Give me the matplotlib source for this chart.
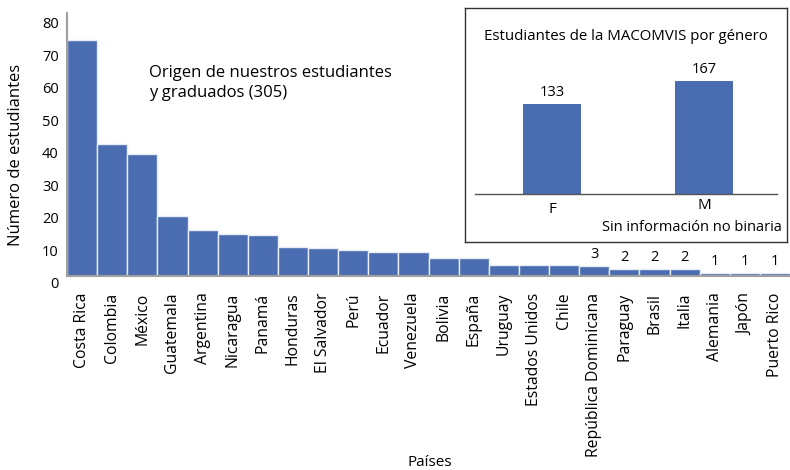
import matplotlib.pyplot as plt
import matplotlib.transforms as mtransforms

# datos por país
paises = ['Costa Rica', 'Colombia', 'México', 'Guatemala', 'Argentina', 'Nicaragua',
          'Panamá', 'Honduras', 'El Salvador', 'Perú', 'Ecuador', 'Venezuela',
          'Bolivia', 'España', 'Uruguay', 'Estados Unidos', 'Chile',
          'República Dominicana', 'Paraguay', 'Brasil', 'Italia', 'Alemania',
          'Japón', 'Puerto Rico']
estudiantes = [72.5, 40.5, 37.5, 18.5, 14, 13, 12.5, 9, 8.5, 8, 7.5, 7.5,
               5.5, 5.5, 3.5, 3.5, 3.5, 3, 2, 2, 2, 1, 1, 1]
etiquetas = ['', '', '', '', '', '', '', '', '', '', '', '', '', '', '', '', '',
             '3', '2', '2', '2', '1', '1', '1']

# datos por género
generos = ['F', 'M']
por_genero = [133, 167]

azul = '#4a6cb0'
gris = '#a0a0a0'
plt.rcParams['font.family'] = ['Open Sans', 'DejaVu Sans']

fig = plt.figure(figsize=(7.9, 4.7), dpi=100)
ax = fig.add_axes([67 / 790, (470 - 276) / 470, 1 - 67 / 790, (276 - 13) / 470])

x = range(len(paises))
barras = ax.bar(x, estudiantes, width=1.0, color=azul, edgecolor='#e8ecf4', linewidth=1)
ax.set_xlim(-0.5, len(paises) - 0.5)
ax.set_ylim(0, 80.9)
ax.set_yticks(range(0, 81, 10))
for b, t in zip(barras, etiquetas):
    if t:
        ax.annotate(t, (b.get_x() + b.get_width() / 2, b.get_height()),
                    xytext=(0, 3), textcoords='offset points',
                    ha='center', va='bottom', fontsize=10.5)

ax.set_xticks(list(x))
ax.set_xticklabels(paises, rotation=90, fontsize=11.3)
ax.tick_params(axis='x', length=0, pad=12)
ax.tick_params(axis='y', length=0, pad=6, labelsize=10.5)
# etiquetas del eje y un poco más abajo, como en el original
desplaz = mtransforms.ScaledTranslation(0, -7 / 100, fig.dpi_scale_trans)
for lab in ax.get_yticklabels():
    lab.set_transform(lab.get_transform() + desplaz)

for s in ['top', 'right']:
    ax.spines[s].set_visible(False)
for s in ['left', 'bottom']:
    ax.spines[s].set_color(gris)
    ax.spines[s].set_linewidth(1.5)

ax.set_ylabel('Número de estudiantes', fontsize=12)
ax.yaxis.set_label_coords(-0.059, 0.46)
fig.text(430 / 790, 1 - 462 / 470, 'Países', ha='center', va='center', fontsize=11)
ax.text(149 / 790, 1 - 65 / 470, 'Origen de nuestros estudiantes\ny graduados (305)',
        transform=fig.transFigure, ha='left', va='top', fontsize=12, linespacing=1.3)

# recuadro de género
ax2 = fig.add_axes([465 / 790, (470 - 242) / 470, 322 / 790, 234 / 470])
ax2.bar(range(len(generos)), por_genero, width=0.38, color=azul)
ax2.set_xlim(-0.572, 1.543)
ax2.set_ylim(-70.9, 274.7)
ax2.axhline(0, xmin=10 / 322, xmax=312 / 322, color='#555555', linewidth=1)
for i, v in enumerate(por_genero):
    ax2.text(i, v + 6, str(v), ha='center', va='bottom', fontsize=10.5)
ax2.text(0, -12, generos[0], ha='center', va='top', fontsize=11)
ax2.text(1, -6, generos[1], ha='center', va='top', fontsize=11)
ax2.text(0.5, 0.88, 'Estudiantes de la MACOMVIS por género', transform=ax2.transAxes,
         ha='center', va='center', fontsize=10.8)
ax2.text(0.985, 0.06, 'Sin información no binaria', transform=ax2.transAxes,
         ha='right', va='center', fontsize=10.5)
ax2.set_xticks([])
ax2.set_yticks([])
for s in ax2.spines.values():
    s.set_color('#333333')
    s.set_linewidth(1)

fig.savefig('out.png', dpi=100)
